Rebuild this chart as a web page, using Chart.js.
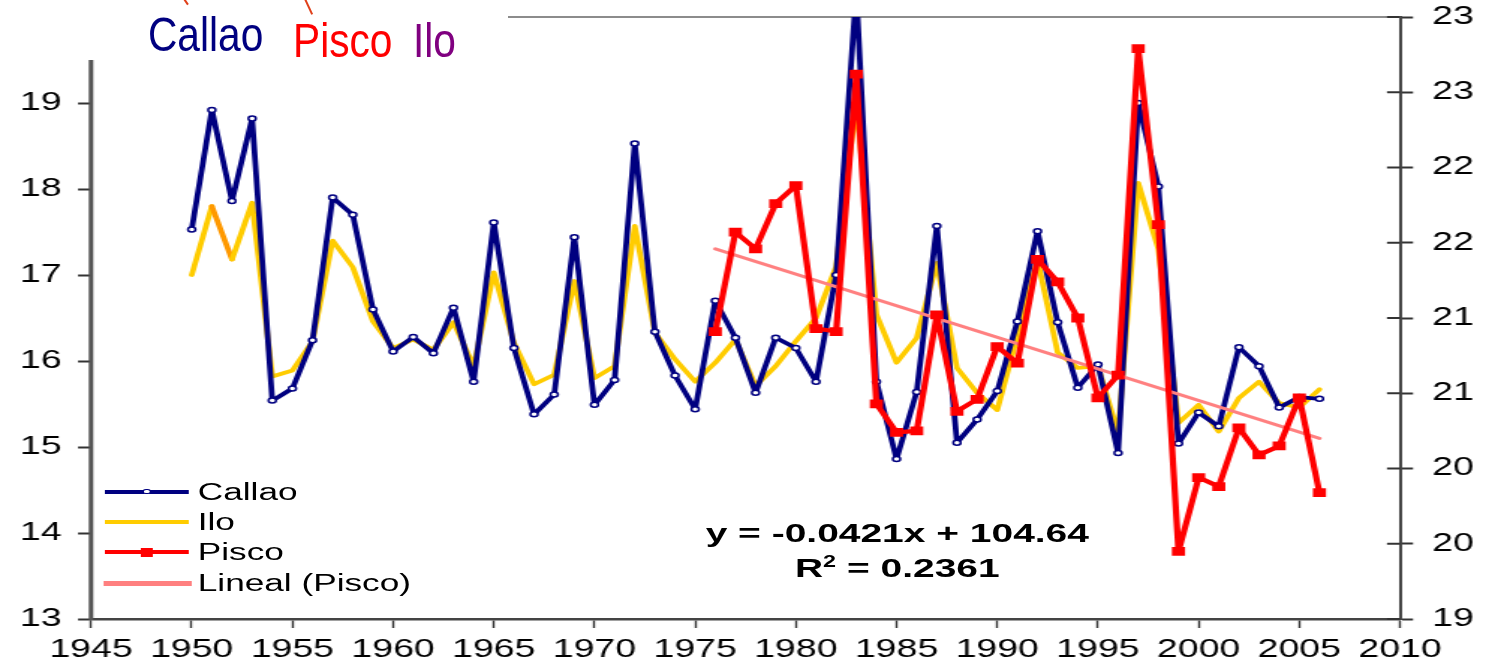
<!DOCTYPE html>
<html>
<head>
<meta charset="utf-8">
<title>Callao, Pisco, Ilo</title>
<script src="https://cdn.jsdelivr.net/npm/chart.js@4.4.0/dist/chart.umd.min.js"></script>
<style>
  html, body { margin: 0; padding: 0; background: #fff; }
  body { width: 1498px; height: 670px; position: relative; overflow: hidden;
         font-family: "Liberation Sans", Arial, sans-serif; }
  /* the original chart is stretched sideways, so draw it narrow and widen it */
  #stretch { position: absolute; left: 0; top: 0; width: 1000px; height: 670px;
             transform: scaleX(1.498); transform-origin: 0 0; }
  #chart { position: absolute; left: 0; top: 0; }
  .leg { position: absolute; left: 70px; width: 260px; height: 30px; }
  .leg .sample { position: absolute; left: 0; top: 13px; width: 56px; height: 4px; }
  .leg .dot { position: absolute; left: 25px; top: 11.5px; width: 3.5px; height: 3.5px;
              background: #fff; border: 1.5px solid #000080; border-radius: 50%; }
  .leg .sq { position: absolute; left: 24px; top: 10.5px; width: 8px; height: 9px; background: #ff0000; }
  .leg .txt { position: absolute; left: 62px; top: 0; line-height: 30px; font-size: 23.5px;
              color: #000; white-space: nowrap; }
  #eq { position: absolute; left: 449px; top: 516px; width: 300px; text-align: center;
        font-weight: bold; font-size: 26px; line-height: 35px; color: #000; white-space: nowrap; }
  #eq sup { font-size: 0.6em; line-height: 0; vertical-align: 0.65em; }
  #titleBox { position: absolute; left: 0; top: 0; width: 508px; height: 30px; background: #fff; }
  .ttl { position: absolute; font-size: 49px; line-height: 49px; transform: scaleX(0.83);
         transform-origin: 0 0; white-space: nowrap; }
  .mark { position: absolute; width: 1.5px; background: #e0401a; transform-origin: 50% 0; }
</style>
</head>
<body>
<div id="stretch">
  <canvas id="chart" width="1000" height="670"></canvas>

  <div class="leg" style="top:477px">
    <div class="sample" style="background:#000080"></div><div class="dot"></div>
    <div class="txt">Callao</div>
  </div>
  <div class="leg" style="top:507px">
    <div class="sample" style="background:#ffcc00"></div>
    <div class="txt">Ilo</div>
  </div>
  <div class="leg" style="top:537px">
    <div class="sample" style="background:#ff0000"></div><div class="sq"></div>
    <div class="txt">Pisco</div>
  </div>
  <div class="leg" style="top:568px">
    <div class="sample" style="background:#ff8080; left:-1px; width:59px; top:12.5px; height:5px"></div>
    <div class="txt">Lineal (Pisco)</div>
  </div>

  <div id="eq">y = -0.0421x + 104.64<br>R<sup>2</sup> = 0.2361</div>
</div>

<div id="titleBox"></div>
<div class="mark" style="left:183px; top:-1px; height:7px; transform:rotate(-35deg)"></div>
<div class="mark" style="left:304px; top:-1px; height:17px; transform:rotate(-25deg)"></div>
<div class="ttl" style="left:148px; top:10px; color:#000080">Callao</div>
<div class="ttl" style="left:293px; top:16px; color:#ff0000">Pisco</div>
<div class="ttl" style="left:413px; top:16px; color:#800080">Ilo</div>

<script>
// ---- data ----
const years = [1950, 1951, 1952, 1953, 1954, 1955, 1956, 1957, 1958, 1959,
  1960, 1961, 1962, 1963, 1964, 1965, 1966, 1967, 1968, 1969,
  1970, 1971, 1972, 1973, 1974, 1975, 1976, 1977, 1978, 1979,
  1980, 1981, 1982, 1983, 1984, 1985, 1986, 1987, 1988, 1989,
  1990, 1991, 1992, 1993, 1994, 1995, 1996, 1997, 1998, 1999,
  2000, 2001, 2002, 2003, 2004, 2005, 2006];

// left axis
const callao = [17.53, 18.92, 17.86, 18.82, 15.54, 15.68, 16.24, 17.90, 17.70, 16.60,
  16.11, 16.28, 16.09, 16.62, 15.76, 17.61, 16.15, 15.38, 15.61, 17.44,
  15.49, 15.78, 18.53, 16.34, 15.83, 15.44, 16.70, 16.27, 15.63, 16.27,
  16.15, 15.76, 17.00, 20.30, 15.76, 14.86, 15.64, 17.57, 15.05, 15.32,
  15.65, 16.46, 17.51, 16.45, 15.69, 15.96, 14.93, 19.00, 18.03, 15.04,
  15.40, 15.24, 16.16, 15.94, 15.46, 15.58, 15.56];

const ilo = [17.00, 17.80, 17.18, 17.84, 15.82, 15.89, 16.23, 17.40, 17.09, 16.46,
  16.15, 16.25, 16.13, 16.45, 15.94, 17.03, 16.21, 15.73, 15.84, 16.93,
  15.80, 15.94, 17.57, 16.33, 16.02, 15.76, 15.98, 16.25, 15.71, 15.94,
  16.23, 16.50, 17.10, 19.00, 16.54, 15.98, 16.27, 17.14, 15.92, 15.63,
  15.43, 16.29, 17.18, 16.10, 15.92, 15.94, 15.16, 18.07, 17.30, 15.28,
  15.49, 15.18, 15.57, 15.76, 15.51, 15.46, 15.67];

// right axis
const piscoYears = [1976, 1977, 1978, 1979, 1980, 1981, 1982, 1983, 1984, 1985,
  1986, 1987, 1988, 1989, 1990, 1991, 1992, 1993, 1994, 1995,
  1996, 1997, 1998, 1999, 2000, 2001, 2002, 2003, 2004, 2005, 2006];
const pisco = [20.91, 21.57, 21.46, 21.76, 21.88, 20.93, 20.91, 22.62, 20.43, 20.24,
  20.25, 21.02, 20.38, 20.46, 20.81, 20.70, 21.39, 21.24, 21.00, 20.47,
  20.62, 22.79, 21.62, 19.45, 19.94, 19.88, 20.27, 20.09, 20.15, 20.47, 19.84];

// ends of the "Lineal (Pisco)" trend line
const trendYears = [1976, 2006];
const trendPisco = [21.46, 20.20];

const orangeSegmentStart = 1; // 1951 -> 1952 of Ilo is drawn orange

function pairs(xs, ys) {
  return xs.map((x, i) => ({ x: x, y: ys[i] }));
}

// no extra room for half-labels, the plot box is fixed
function noLabelPadding(s) {
  s.paddingTop = 0;
  s.paddingBottom = 0;
  s.paddingLeft = 0;
  s.paddingRight = 0;
}

Chart.defaults.font.family = '"Liberation Sans", Arial, sans-serif';
Chart.defaults.color = "#000";
Chart.defaults.elements.line.borderJoinStyle = "round";
Chart.defaults.elements.line.borderCapStyle = "round";

// axis bits Chart.js doesn't draw the way the original does
const axisExtras = {
  id: "axisExtras",
  beforeDatasetsDraw(chart) {
    const { ctx, chartArea: a, scales } = chart;
    ctx.save();
    // top frame line
    ctx.strokeStyle = "#8c8c8c";
    ctx.lineWidth = 2;
    ctx.beginPath();
    ctx.moveTo(a.left, a.top);
    ctx.lineTo(a.right, a.top);
    ctx.stroke();
    // left axis line stops half a unit above the last label
    ctx.strokeStyle = "#555";
    ctx.lineWidth = 3;
    ctx.beginPath();
    ctx.moveTo(a.left, a.bottom + 1);
    ctx.lineTo(a.left, scales.yL.getPixelForValue(19.5));
    ctx.stroke();
    // right axis ticks cross the axis
    ctx.strokeStyle = "#333";
    ctx.lineWidth = 2;
    scales.yR.ticks.forEach((t) => {
      const y = scales.yR.getPixelForValue(t.value);
      ctx.beginPath();
      ctx.moveTo(a.right - 8.7, y);
      ctx.lineTo(a.right, y);
      ctx.stroke();
    });
    ctx.restore();
  },
};

const tickFont = { size: 25 };

new Chart(document.getElementById("chart").getContext("2d"), {
  type: "line",
  data: {
    datasets: [
      {
        label: "Pisco",
        data: pairs(piscoYears, pisco),
        yAxisID: "yR",
        order: 1,
        borderColor: "#ff0000",
        backgroundColor: "#ff0000",
        borderWidth: 4.2,
        pointStyle: "rect",
        pointRadius: 6.2,
        pointBorderWidth: 0,
        pointBackgroundColor: "#ff0000",
        tension: 0,
      },
      {
        label: "Lineal (Pisco)",
        data: pairs(trendYears, trendPisco),
        yAxisID: "yR",
        order: 2,
        borderColor: "#ff8080",
        borderWidth: 3,
        pointRadius: 0,
        tension: 0,
      },
      {
        label: "Callao",
        data: pairs(years, callao),
        yAxisID: "yL",
        order: 3,
        borderColor: "#000080",
        backgroundColor: "#ffffff",
        borderWidth: 3.8,
        pointStyle: "circle",
        pointRadius: 2.5,
        pointBorderWidth: 1.5,
        pointBorderColor: "#000080",
        pointBackgroundColor: "#ffffff",
        tension: 0,
      },
      {
        label: "Ilo",
        data: pairs(years, ilo),
        yAxisID: "yL",
        order: 4,
        borderColor: "#ffcc00",
        borderWidth: 3.8,
        pointRadius: 0,
        tension: 0,
        segment: {
          borderColor: (c) => (c.p0DataIndex === orangeSegmentStart ? "#ff9900" : undefined),
        },
      },
    ],
  },
  options: {
    responsive: false,
    animation: false,
    events: [],
    layout: { padding: { top: 17, left: 0, right: 0, bottom: 0 } },
    plugins: { legend: { display: false }, tooltip: { enabled: false } },
    scales: {
      x: {
        type: "linear",
        position: "bottom",
        min: 1945,
        max: 2010,
        afterFit: (s) => { s.height = 51; noLabelPadding(s); },
        border: { display: true, color: "#444", width: 2.5 },
        grid: { drawOnChartArea: false, drawTicks: true, tickLength: 9, tickColor: "#333", tickWidth: 1.4 },
        ticks: {
          stepSize: 5,
          padding: 7,
          font: tickFont,
          maxRotation: 0,
          autoSkip: false,
          callback: (v) => String(v),
        },
      },
      yL: {
        type: "linear",
        position: "left",
        min: 13,
        max: 20,
        afterFit: (s) => { s.width = 60.75; noLabelPadding(s); },
        border: { display: false },
        grid: {
          drawOnChartArea: false,
          drawTicks: true,
          tickLength: 8.7,
          tickWidth: 2,
          tickColor: (c) => (c.tick && c.tick.value === 20 ? "rgba(0,0,0,0)" : "#333"),
        },
        ticks: {
          stepSize: 1,
          padding: 11,
          font: tickFont,
          callback: (v) => (v === 20 ? "" : String(v)),
        },
      },
      yR: {
        type: "linear",
        position: "right",
        min: 19,
        max: 23,
        afterFit: (s) => { s.width = 65.42; noLabelPadding(s); },
        border: { display: true, color: "#444", width: 2 },
        grid: { drawOnChartArea: false, drawTicks: true, tickLength: 8.7, tickWidth: 2, tickColor: "#333" },
        ticks: {
          stepSize: 0.5,
          padding: 12.7,
          font: tickFont,
          callback: (v) => String(Math.round(v)),
        },
      },
    },
  },
  plugins: [axisExtras],
});
</script>
</body>
</html>
